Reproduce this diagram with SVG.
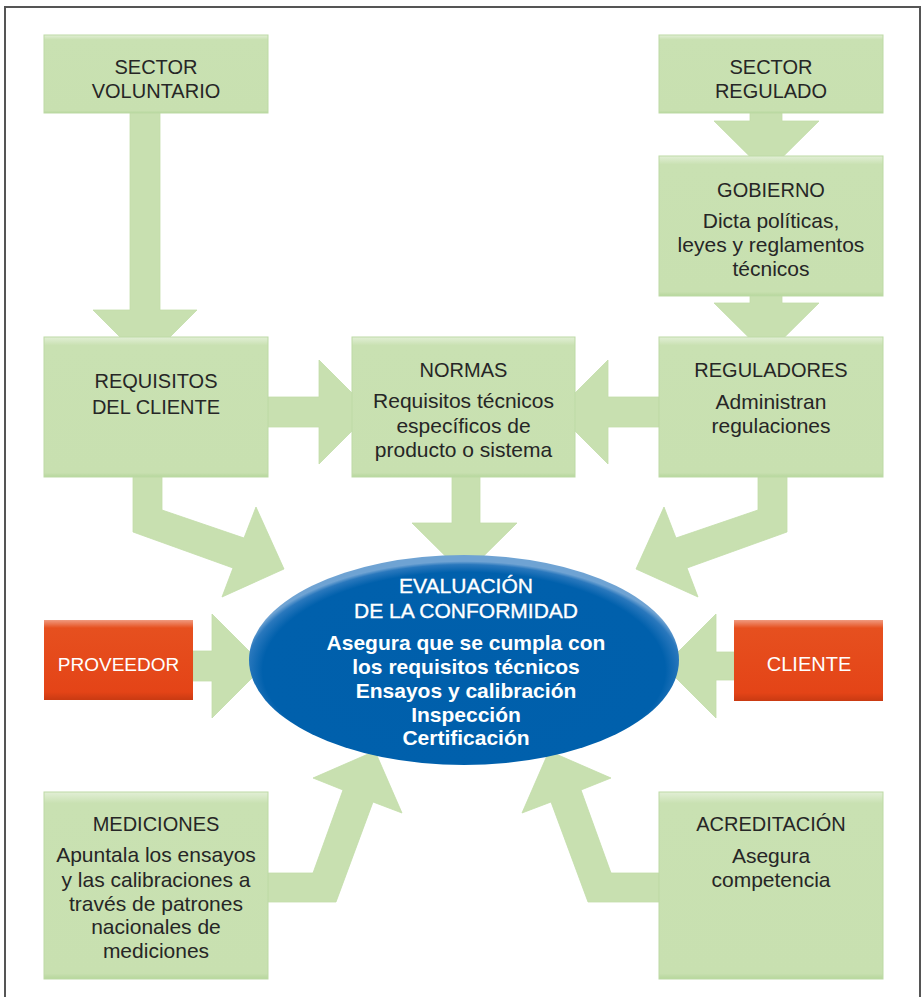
<svg xmlns="http://www.w3.org/2000/svg" width="922" height="997" viewBox="0 0 922 997">
<defs>
  <radialGradient id="ellG" cx="0.5" cy="0.55" r="0.52">
    <stop offset="0" stop-color="#005fab"/>
    <stop offset="0.9" stop-color="#0060ac"/>
    <stop offset="0.97" stop-color="#2a78bd"/>
    <stop offset="1" stop-color="#6fa3d3"/>
  </radialGradient>
  <linearGradient id="redG" x1="0" y1="0" x2="0" y2="1">
    <stop offset="0" stop-color="#f09a7f"/>
    <stop offset="0.1" stop-color="#e6501f"/>
    <stop offset="0.9" stop-color="#e44417"/>
    <stop offset="1" stop-color="#c93a12"/>
  </linearGradient>
  <linearGradient id="greenG" x1="0" y1="0" x2="0" y2="1">
    <stop offset="0" stop-color="#e2efd6"/>
    <stop offset="0.06" stop-color="#c9e1b2"/>
    <stop offset="0.97" stop-color="#c8e0b0"/>
    <stop offset="1" stop-color="#b6d69c"/>
  </linearGradient>
</defs>
<style>
  .box{fill:url(#greenG);stroke:#bddaa5;stroke-width:1}
  .red{fill:url(#redG)}
  .arr{fill:#c8e0b0;stroke:#c3ddaa;stroke-width:0.8}
  .t{font-family:"Liberation Sans",Arial,sans-serif;font-size:20px;fill:#262626;text-anchor:middle}
  .s{font-size:21px}
  .w{font-family:"Liberation Sans",Arial,sans-serif;fill:#ffffff;text-anchor:middle}
  .h{font-size:21px;stroke:#ffffff;stroke-width:0.35}
  .b{font-size:21px;font-weight:bold}
</style>
<rect x="0" y="0" width="922" height="997" fill="#ffffff"/>
<path d="M5,997 V7 H920 V997" fill="none" stroke="#555555" stroke-width="2"/>

<g id="connectors">
  <polygon class="arr" points="130,113 160,113 160,310 197,310 145,362 93,310 130,310"/>
  <polygon class="arr" points="750,113 782,113 782,121 819,121 766.5,173 714,121 750,121"/>
  <polygon class="arr" points="750,295 782,295 782,303 819,303 766.5,355 714,303 750,303"/>
  <polygon class="arr" points="268,397 319,397 319,360 371,412 319,464 319,427 268,427"/>
  <polygon class="arr" points="659,397 608,397 608,360 556,412 608,464 608,427 659,427"/>
  <polygon class="arr" points="452,477 480,477 480,523 517,523 464.5,575 412,523 452,523"/>
  <polygon class="arr" points="133,477 162,477 162,510 244,538 256,507 284,569 222,597 233,568 133,532"/>
  <polygon class="arr" points="787,477 758,477 758,510 676,538 664,507 636,569 698,597 687,568 787,532"/>
  <polygon class="arr" points="193,651 212,651 212,614 264,666 212,718 212,681 193,681"/>
  <polygon class="arr" points="734,652 716,652 716,614 664,666 716,718 716,680 734,680"/>
  <polygon class="arr" points="268,873 313,873 343,790 313,778 375,751 402,813 373,802 336,902 268,902"/>
  <polygon class="arr" points="659,873 611,873 581,790 611,778 549,751 522,813 551,802 588,902 659,902"/>
</g>

<g id="sector-voluntario">
  <rect class="box" x="44" y="35" width="224" height="78"/>
  <text class="t" x="156" y="74">SECTOR</text>
  <text class="t" x="156" y="98">VOLUNTARIO</text>
</g>
<g id="sector-regulado">
  <rect class="box" x="659" y="35" width="224" height="78"/>
  <text class="t" x="771" y="74">SECTOR</text>
  <text class="t" x="771" y="98">REGULADO</text>
</g>
<g id="gobierno">
  <rect class="box" x="659" y="156" width="224" height="140"/>
  <text class="t" x="771" y="197">GOBIERNO</text>
  <text class="t s" x="771" y="228">Dicta políticas,</text>
  <text class="t s" x="771" y="252">leyes y reglamentos</text>
  <text class="t s" x="771" y="276">técnicos</text>
</g>
<g id="requisitos-cliente">
  <rect class="box" x="44" y="337" width="224" height="140"/>
  <text class="t" x="156" y="388">REQUISITOS</text>
  <text class="t" x="156" y="414">DEL CLIENTE</text>
</g>
<g id="normas">
  <rect class="box" x="352" y="337" width="223" height="140"/>
  <text class="t" x="463.5" y="377">NORMAS</text>
  <text class="t s" x="463.5" y="408">Requisitos técnicos</text>
  <text class="t s" x="463.5" y="433">específicos de</text>
  <text class="t s" x="463.5" y="457">producto o sistema</text>
</g>
<g id="reguladores">
  <rect class="box" x="659" y="337" width="224" height="140"/>
  <text class="t" x="771" y="377">REGULADORES</text>
  <text class="t s" x="771" y="409">Administran</text>
  <text class="t s" x="771" y="433">regulaciones</text>
</g>
<g id="proveedor">
  <rect class="red" x="44" y="620" width="149" height="80"/>
  <text class="w" x="118.5" y="671" font-size="19">PROVEEDOR</text>
</g>
<g id="cliente">
  <rect class="red" x="734" y="620" width="149" height="81"/>
  <text class="w" x="809" y="671" font-size="20">CLIENTE</text>
</g>
<g id="evaluacion">
  <ellipse cx="464" cy="660" rx="215" ry="105" fill="url(#ellG)"/>
  <text class="w h" x="466" y="593">EVALUACIÓN</text>
  <text class="w h" x="466" y="618">DE LA CONFORMIDAD</text>
  <text class="w b" x="466" y="650">Asegura que se cumpla con</text>
  <text class="w b" x="466" y="674">los requisitos técnicos</text>
  <text class="w b" x="466" y="698">Ensayos y calibración</text>
  <text class="w b" x="466" y="722">Inspección</text>
  <text class="w b" x="466" y="745">Certificación</text>
</g>
<g id="mediciones">
  <rect class="box" x="44" y="792" width="224" height="187"/>
  <text class="t" x="156" y="831">MEDICIONES</text>
  <text class="t s" x="156" y="862">Apuntala los ensayos</text>
  <text class="t s" x="156" y="887">y las calibraciones a</text>
  <text class="t s" x="156" y="911">través de patrones</text>
  <text class="t s" x="156" y="934">nacionales de</text>
  <text class="t s" x="156" y="958">mediciones</text>
</g>
<g id="acreditacion">
  <rect class="box" x="659" y="792" width="224" height="187"/>
  <text class="t" x="771" y="831">ACREDITACIÓN</text>
  <text class="t s" x="771" y="863">Asegura</text>
  <text class="t s" x="771" y="887">competencia</text>
</g>
</svg>
